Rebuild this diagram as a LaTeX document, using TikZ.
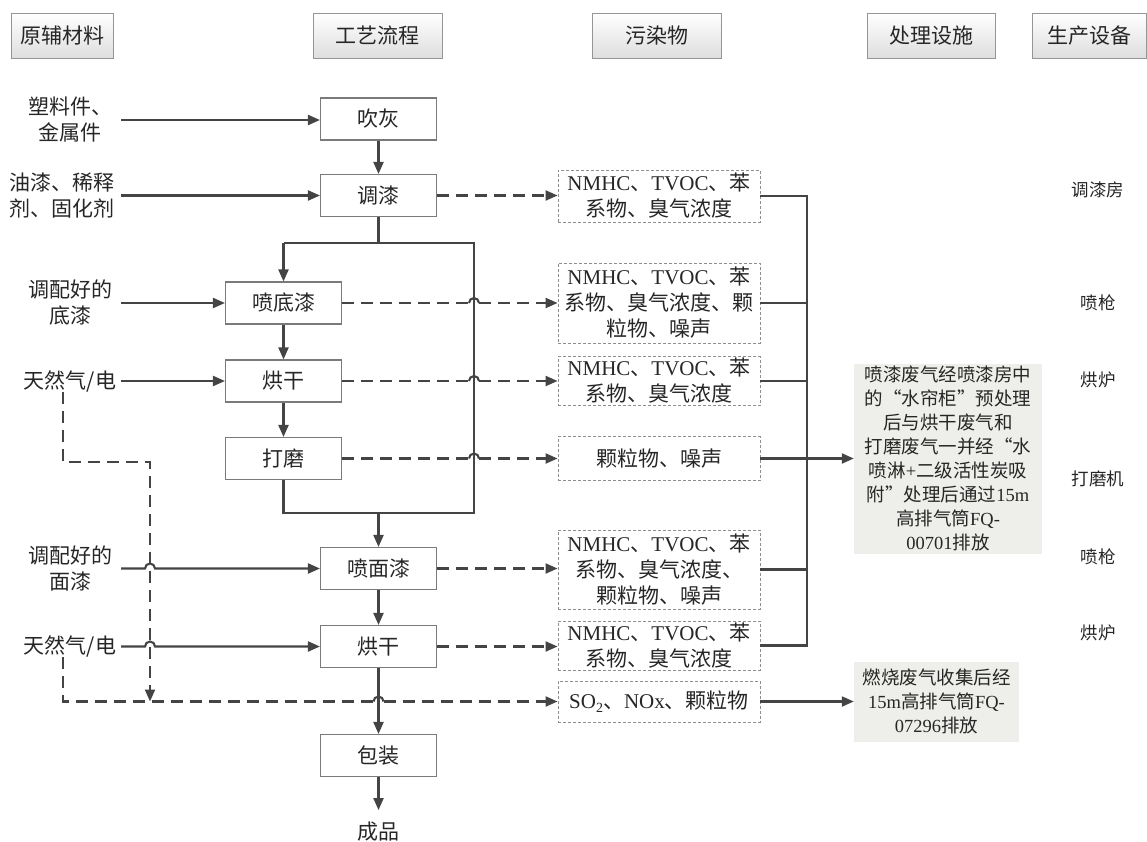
\documentclass[tikz,border=0pt]{standalone}
\usepackage{fontspec}
\setmainfont{Liberation Serif}
\newfontfamily\cjk{Noto Sans CJK SC}
\usetikzlibrary{arrows.meta,calc}
\newcommand\en[1]{{\rmfamily #1}}
\definecolor{lnc}{HTML}{444444}
\definecolor{bdc}{HTML}{7A7A7A}
\definecolor{tfc}{HTML}{EEEFEA}
\newcommand\hopdash[3]{%
  \draw[dl] (#1.east) -- ($(#1.east -| #3)+(-5,0)$);
  \draw[sl] ($(#1.east -| #3)+(-5,0)$) arc[start angle=180,end angle=0,radius=5pt];
  \draw[dar] ($(#1.east -| #3)+(5,0)$) -- (#2.west |- #1.east);}
\begin{document}
\begin{tikzpicture}[x=1pt,y=-1pt,
  every node/.style={font=\cjk\fontsize{21}{26}\selectfont, text=black!85, align=center, inner sep=0pt},
  proc/.style={draw=bdc, line width=1.1pt, minimum width=116pt, minimum height=42pt},
  poll/.style={draw=bdc!85, dash pattern=on 3pt off 2pt, line width=0.9pt, minimum width=202pt},
  head/.style={draw=bdc!80, line width=0.9pt, top color=white, bottom color=black!13, minimum height=45pt},
  lab/.style={minimum width=102pt},
  treat/.style={fill=tfc, font=\cjk\fontsize{18.5}{24}\selectfont},
  dev/.style={font=\cjk\fontsize{17.5}{20}\selectfont},
  sl/.style={draw=lnc, line width=2.1pt},
  ar/.style={sl, -{Triangle[length=12pt,width=10pt]}},
  dl/.style={draw=lnc, line width=2.1pt, dash pattern=on 12pt off 7pt},
  dar/.style={dl, -{Triangle[length=12pt,width=10pt]}},
]
\useasboundingbox (0,0) rectangle (1147,842);

% headers
\node[head, minimum width=102pt] (h1) at (62,35.5) {原辅材料};
\node[head, minimum width=129pt] (h2) at (377.5,35.5) {工艺流程};
\node[head, minimum width=129pt] (h3) at (656.5,35.5) {污染物};
\node[head, minimum width=128pt] (h4) at (931,35.5) {处理设施};
\node[head, minimum width=114pt] (h5) at (1089.5,35.5) {生产设备};

% process boxes
\node[proc] (cb) at (378.5,119) {吹灰};
\node[proc] (tq) at (378.5,195.5) {调漆};
\node[proc] (pdq) at (283.5,303) {喷底漆};
\node[proc] (hg1) at (283.5,381) {烘干};
\node[proc] (dm) at (283.5,458.5) {打磨};
\node[proc] (pmq) at (378.5,568.5) {喷面漆};
\node[proc] (hg2) at (378.5,646.5) {烘干};
\node[proc] (bz) at (378.5,755.5) {包装};
\node (cp) at (378.5,832) {成品};

% raw materials
\node[lab] (l1) at (70,120) {塑料件、\\金属件};
\node[lab, minimum width=118pt] (l2) at (62,195.5) {油漆、稀释\\剂、固化剂};
\node[lab] (l3) at (70,303) {调配好的\\底漆};
\node[lab] (l4) at (70,381) {天然气/电};
\node[lab] (l5) at (70,568.5) {调配好的\\面漆};
\node[lab] (l6) at (70,646.5) {天然气/电};

% pollutants
\node[poll, minimum height=52pt] (p1) at (659,196) {\en{NMHC}、\en{TVOC}、苯\\系物、臭气浓度};
\node[poll, minimum height=80pt] (p2) at (659,303) {\en{NMHC}、\en{TVOC}、苯\\系物、臭气浓度、颗\\粒物、噪声};
\node[poll, minimum height=49pt] (p3) at (659,381) {\en{NMHC}、\en{TVOC}、苯\\系物、臭气浓度};
\node[poll, minimum height=44pt] (p4) at (659,458.5) {颗粒物、噪声};
\node[poll, minimum height=79pt] (p5) at (659,569.5) {\en{NMHC}、\en{TVOC}、苯\\系物、臭气浓度、\\颗粒物、噪声};
\node[poll, minimum height=49pt] (p6) at (659,645.5) {\en{NMHC}、\en{TVOC}、苯\\系物、臭气浓度};
\node[poll, minimum height=41pt] (p7) at (659,701.5) {\en{SO\raisebox{-0.35ex}{\fontsize{14}{14}\selectfont 2}}、\en{NOx}、颗粒物};

% treatment
\node[treat, minimum width=188pt, minimum height=190pt] (t1) at (948,458.5) {喷漆废气经喷漆房中\\的“水帘柜”预处理\\后与烘干废气和\\打磨废气一并经“水\\喷淋\en{+}二级活性炭吸\\附”处理后通过\en{15m}\\高排气筒\en{FQ-}\\\en{00701}排放};
\node[treat, minimum width=165pt, minimum height=80pt] (t2) at (936.5,701.5) {燃烧废气收集后经\\\en{15m}高排气筒\en{FQ-}\\\en{07296}排放};

% devices
\node[dev] (d1) at (1098,190) {调漆房};
\node[dev] (d2) at (1098,303) {喷枪};
\node[dev] (d3) at (1098,380) {烘炉};
\node[dev] (d4) at (1098,479) {打磨机};
\node[dev] (d5) at (1098,557) {喷枪};
\node[dev] (d6) at (1098,633) {烘炉};

% helper coordinates
\coordinate (jL) at (283.5,243);
\coordinate (jR) at (474,243);
\coordinate (jB) at (474,513);
\coordinate (jM) at (378.5,513);
\coordinate (vx) at (807,195);
\coordinate (g1) at (63,462);
\coordinate (g2) at (150,462);
\coordinate (g3) at (150,701.5);
\coordinate (g4) at (63,701.5);

% main flow
\draw[ar] (cb.south) -- (tq.north);
\draw[sl] (tq.south) -- (tq.south |- jR);
\draw[sl] (jL) -- (jR) -- (jB) -- (dm.south |- jB) -- (dm.south);
\draw[ar] (jL) -- (pdq.north);
\draw[ar] (pdq.south) -- (hg1.north);
\draw[ar] (hg1.south) -- (dm.north);
\draw[ar] (jM) -- (pmq.north);
\draw[ar] (pmq.south) -- (hg2.north);
\draw[ar] (hg2.south) -- (bz.north);
\draw[ar, shorten >=12pt] (bz.south) -- (cp.north);

% inputs
\draw[ar] (l1.east) -- (cb.west |- l1.east);
\draw[ar] (l2.east) -- (tq.west |- l2.east);
\draw[ar] (l3.east) -- (pdq.west |- l3.east);
\draw[ar] (l4.east) -- (hg1.west |- l4.east);
\draw[ar] (l5.east) -- ($(l5.east -| g2)+(-5,0)$) arc[start angle=180,end angle=0,radius=5pt] -- (pmq.west |- l5.east);
\draw[ar] (l6.east) -- ($(l6.east -| g2)+(-5,0)$) arc[start angle=180,end angle=0,radius=5pt] -- (hg2.west |- l6.east);

% combustion dashed lines
\draw[dar] (l4.south -| g1) -- (g1) -- (g2) -- (g3);
\draw[dl] (l6.south -| g4) -- (g4) -- ($(g4 -| hg2.south)+(-5,0)$);
\draw[sl] ($(g4 -| hg2.south)+(-5,0)$) arc[start angle=180,end angle=0,radius=5pt];
\draw[dar] ($(g4 -| hg2.south)+(5,0)$) -- (p7.west |- g4);

% emissions to pollutants
\draw[dar] (tq.east) -- (p1.west |- tq.east);
\hopdash{pdq}{p2}{jR}
\hopdash{hg1}{p3}{jR}
\hopdash{dm}{p4}{jR}
\draw[dar] (pmq.east) -- (p5.west |- pmq.east);
\draw[dar] (hg2.east) -- (p6.west |- hg2.east);

% pollutants to treatment
\draw[sl] (p1.east) -- (p1.east -| vx) -- (p6.east -| vx) -- (p6.east);
\draw[sl] (p2.east) -- (p2.east -| vx);
\draw[sl] (p3.east) -- (p3.east -| vx);
\draw[sl] (p5.east) -- (p5.east -| vx);
\draw[ar] (p4.east) -- (t1.west |- p4.east);
\draw[ar] (p7.east) -- (t2.west |- p7.east);
\end{tikzpicture}
\end{document}
